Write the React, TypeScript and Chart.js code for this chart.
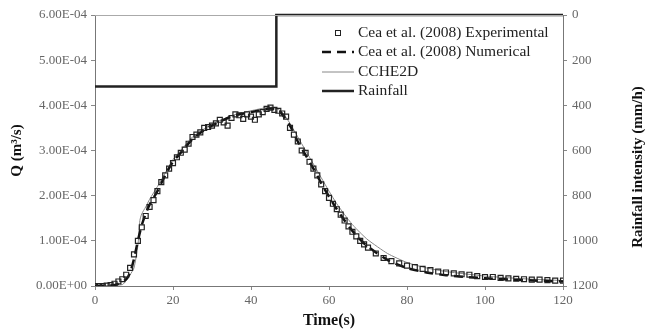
import React, { useEffect, useRef } from "react";
import { Chart, registerables } from "chart.js";

Chart.register(...registerables);

// Experimental (Cea et al. 2008) — time (s), Q (x1e-4 m3/s)
const expT = [0,1,2,3,4,5,6,7,8,9,10,11,12,13,14,15,16,17,18,19,20,21,22,23,24,25,26,27,28,29,30,31,32,33,34,35,36,37,38,39,40,41,42,43,44,45,46,47,48,49,50,51,52,53,54,55,56,57,58,59,60,61,62,63,64,65,66,67,68,69,70,72,74,76,78,80,82,84,86,88,90,92,94,96,98,100,102,104,106,108,110,112,114,116,118,120];
const expQ = [0,0,0,0.01,0.02,0.05,0.1,0.15,0.25,0.4,0.7,1.0,1.3,1.55,1.75,1.9,2.1,2.3,2.45,2.6,2.72,2.85,2.95,3.02,3.15,3.3,3.35,3.4,3.5,3.52,3.55,3.6,3.68,3.62,3.55,3.72,3.8,3.78,3.7,3.8,3.75,3.68,3.8,3.85,3.92,3.95,3.9,3.88,3.82,3.75,3.5,3.35,3.2,3.0,2.95,2.75,2.6,2.45,2.25,2.1,1.95,1.82,1.7,1.58,1.45,1.32,1.2,1.1,1.0,0.92,0.85,0.72,0.62,0.55,0.5,0.45,0.42,0.38,0.35,0.32,0.3,0.28,0.26,0.25,0.22,0.2,0.2,0.18,0.17,0.16,0.15,0.14,0.14,0.13,0.12,0.12];

// Numerical (Cea et al. 2008)
const numT = [0,5,8,9,10,11,12,13,14,16,18,20,22,25,28,30,33,36,40,43,45,47,48,50,52,54,56,58,60,62,64,66,68,70,75,80,85,90,100,110,120];
const numQ = [0,0.02,0.15,0.3,0.6,1.0,1.35,1.6,1.8,2.1,2.45,2.75,2.95,3.25,3.45,3.55,3.68,3.78,3.85,3.9,3.93,3.9,3.8,3.55,3.2,2.9,2.6,2.28,1.98,1.7,1.45,1.22,1.03,0.87,0.58,0.4,0.3,0.24,0.17,0.13,0.1];

// CCHE2D
const ccheT = [0,7,8,9,10,11,11.5,12,13,14,16,18,20,22,25,28,30,33,36,40,44,46,48,50,52,54,56,58,60,62,64,66,68,70,75,80,85,90,100,110,120];
const ccheQ = [0,0.03,0.12,0.25,0.4,0.9,1.45,1.6,1.75,1.92,2.2,2.5,2.8,3.0,3.3,3.48,3.58,3.7,3.8,3.88,3.95,3.95,3.85,3.6,3.3,3.0,2.7,2.4,2.1,1.82,1.58,1.36,1.18,1.02,0.72,0.52,0.4,0.32,0.22,0.16,0.12];

// Rainfall intensity (mm/h)
const rainT = [0,46.5,46.5,120];
const rainI = [317,317,0,0];

const xTicks = [0,20,40,60,80,100,120];
const legendLabels = [
  "Cea et al. (2008) Experimental",
  "Cea et al. (2008) Numerical",
  "CCHE2D",
  "Rainfall",
];
const rightTitle = "Rainfall intensity (mm/h)";

const SCALE = 1e-4;
const pts = (t: number[], q: number[], s = 1) => t.map((x, i) => ({ x, y: q[i] * s }));

function fmtSci(v: number): string {
  if (v === 0) return "0.00E+00";
  const e = Math.floor(Math.log10(Math.abs(v)) + 1e-9);
  const m = v / Math.pow(10, e);
  const sign = e < 0 ? "-" : "+";
  const ae = Math.abs(e);
  return `${m.toFixed(2)}E${sign}${ae < 10 ? "0" + ae : ae}`;
}

const SERIF = "'Liberation Serif', 'DejaVu Serif', serif";

export default function App() {
  const ref = useRef<HTMLCanvasElement | null>(null);
  useEffect(() => {
    if (!ref.current) return;
    const legendPlugin = {
      id: "customLegend",
      afterDraw(chart: any) {
        const ctx = chart.ctx;
        const { top, bottom, left, right } = chart.chartArea;
        ctx.save();
        // top border of plot area
        ctx.strokeStyle = "#aaa";
        ctx.lineWidth = 1;
        ctx.beginPath();
        ctx.moveTo(left, top + 0.5);
        ctx.lineTo(right, top + 0.5);
        ctx.stroke();

        // right axis title, reading bottom-to-top
        ctx.save();
        ctx.translate(638, 167);
        ctx.rotate(-Math.PI / 2);
        ctx.font = `bold 15px ${SERIF}`;
        ctx.fillStyle = "#111";
        ctx.textAlign = "center";
        ctx.textBaseline = "middle";
        ctx.fillText(rightTitle, 0, 0);
        ctx.restore();

        const rows = [33, 52, 72, 91];
        const x0 = 322, x1 = 354, tx = 358;
        ctx.font = `15.5px ${SERIF}`;
        ctx.fillStyle = "#222";
        ctx.textBaseline = "middle";
        ctx.textAlign = "left";
        legendLabels.forEach((lab, i) => {
          const y = rows[i];
          ctx.save();
          if (i === 0) {
            ctx.strokeStyle = "#222";
            ctx.lineWidth = 1;
            ctx.strokeRect(335.5, y - 2.5, 5, 5);
          } else if (i === 1) {
            ctx.strokeStyle = "#111";
            ctx.lineWidth = 2.5;
            ctx.setLineDash([9, 6]);
            ctx.beginPath();
            ctx.moveTo(x0, y);
            ctx.lineTo(x1, y);
            ctx.stroke();
          } else if (i === 2) {
            ctx.strokeStyle = "#888";
            ctx.lineWidth = 1;
            ctx.beginPath();
            ctx.moveTo(x0, y);
            ctx.lineTo(x1, y);
            ctx.stroke();
          } else {
            ctx.strokeStyle = "#222";
            ctx.lineWidth = 2.5;
            ctx.beginPath();
            ctx.moveTo(x0, y);
            ctx.lineTo(x1, y);
            ctx.stroke();
          }
          ctx.restore();
          ctx.fillText(lab, tx, y);
        });
        ctx.restore();
      },
    };

    const chart = new Chart(ref.current, {
      type: "scatter",
      data: {
        datasets: [
          {
            label: legendLabels[0],
            data: pts(expT, expQ, SCALE),
            yAxisID: "y",
            showLine: false,
            pointStyle: "rect",
            pointRadius: 3.5,
            borderColor: "#222",
            backgroundColor: "rgba(0,0,0,0)",
            borderWidth: 1.2,
          },
          {
            label: legendLabels[1],
            data: pts(numT, numQ, SCALE),
            yAxisID: "y",
            showLine: true,
            pointRadius: 0,
            borderColor: "#111",
            borderWidth: 2.5,
            borderDash: [9, 6],
            tension: 0.3,
          },
          {
            label: legendLabels[2],
            data: pts(ccheT, ccheQ, SCALE),
            yAxisID: "y",
            showLine: true,
            pointRadius: 0,
            borderColor: "#888",
            borderWidth: 1,
            tension: 0.2,
          },
          {
            label: legendLabels[3],
            data: pts(rainT, rainI),
            yAxisID: "y2",
            showLine: true,
            pointRadius: 0,
            borderColor: "#222",
            borderWidth: 2.5,
            clip: 4,
          } as any,
        ],
      },
      options: {
        animation: false,
        responsive: false,
        maintainAspectRatio: false,
        layout: { padding: { top: 15, left: 0, right: 0, bottom: 0 } },
        plugins: { legend: { display: false }, tooltip: { enabled: false } },
        scales: {
          x: {
            type: "linear",
            min: 0,
            max: 120,
            afterBuildTicks: (s: any) => {
              s.ticks = xTicks.map((v) => ({ value: v }));
            },
            afterFit: (s: any) => {
              s.height = 47;
            },
            grid: { drawOnChartArea: false, drawTicks: true, tickLength: 4, color: "#888" },
            border: { display: true, color: "#777", width: 1 },
            ticks: {
              color: "#666",
              font: { family: SERIF, size: 13 },
              padding: 3,
              maxRotation: 0,
            },
            title: {
              display: true,
              text: "Time(s)",
              color: "#111",
              font: { family: SERIF, size: 16, weight: "bold" },
              padding: { top: 0, bottom: 3 },
            },
          },
          y: {
            type: "linear",
            position: "left",
            min: 0,
            max: 6e-4,
            ticks: {
              stepSize: 1e-4,
              color: "#666",
              font: { family: SERIF, size: 13 },
              padding: 4,
              callback: (v: any) => fmtSci(Number(v)),
            },
            afterFit: (s: any) => {
              s.width = 95;
            },
            grid: { drawOnChartArea: false, drawTicks: true, tickLength: 4, color: "#888" },
            border: { display: true, color: "#777", width: 1 },
            title: {
              display: true,
              text: "Q (m³/s)",
              color: "#111",
              font: { family: SERIF, size: 15, weight: "bold" },
              padding: { top: 8, bottom: 0 },
            },
          },
          y2: {
            type: "linear",
            position: "right",
            reverse: true,
            min: 0,
            max: 1200,
            ticks: {
              stepSize: 200,
              color: "#666",
              font: { family: SERIF, size: 13 },
              padding: 5,
              callback: (v: any) => String(v),
            },
            afterFit: (s: any) => {
              s.width = 88;
            },
            grid: { drawOnChartArea: false, drawTicks: true, tickLength: 4, color: "#888" },
            border: { display: true, color: "#777", width: 1 },
            title: { display: false },
          },
        },
      } as any,
      plugins: [legendPlugin],
    });
    return () => chart.destroy();
  }, []);

  return (
    <div style={{ position: "absolute", left: 0, top: 0, width: 651, height: 333, background: "#fff" }}>
      <canvas ref={ref} width={651} height={333} style={{ width: 651, height: 333 }} />
    </div>
  );
}
